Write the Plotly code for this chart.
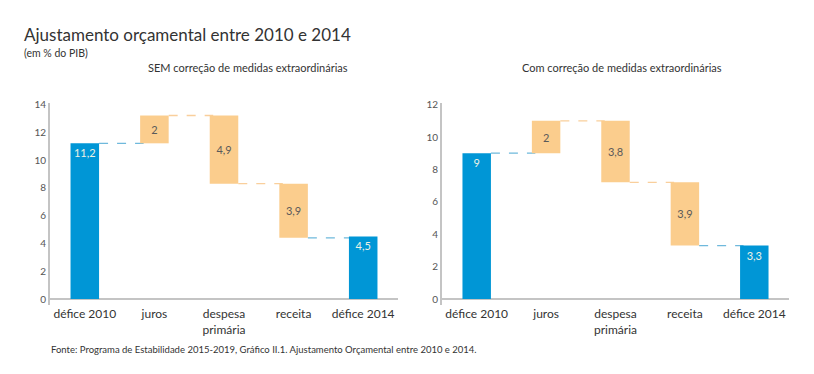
import plotly.graph_objects as go

categories = ["défice 2010", "juros", "despesa<br>primária", "receita", "défice 2014"]
left_values = [11.2, 2.0, -4.9, -3.9, 4.5]
right_values = [9.0, 2.0, -3.8, -3.9, 3.3]
measures = ["absolute", "relative", "relative", "relative", "absolute"]
left_title = "SEM correção de medidas extraordinárias"
right_title = "Com correção de medidas extraordinárias"
left_yticks = [0, 2, 4, 6, 8, 10, 12, 14]
right_yticks = [0, 2, 4, 6, 8, 10, 12]

BLUE = "#0096d6"
ORANGE = "#fbcd8d"
BLUE_DASH = "#6fb9dc"
ORANGE_DASH = "#f9cf9c"
FONT = "Lato"
W = 0.41

fig = go.Figure()


def fmt(v):
    s = ("%.1f" % abs(v)).rstrip("0").rstrip(".")
    return s.replace(".", ",")


def add_chart(values, xa, ya):
    tot_x, tot_h, tot_t = [], [], []
    rel_x, rel_h, rel_b, rel_t = [], [], [], []
    ends = []
    level = 0.0
    for i, (v, m) in enumerate(zip(values, measures)):
        if m == "absolute":
            tot_x.append(i)
            tot_h.append(v)
            tot_t.append(fmt(v))
            level = v
            ends.append(v)
        else:
            start = level
            level = level + v
            rel_x.append(i)
            rel_b.append(min(start, level))
            rel_h.append(abs(v))
            rel_t.append(fmt(v))
            ends.append(level)
    fig.add_trace(go.Bar(
        x=tot_x, y=tot_h, width=W,
        marker=dict(color=BLUE, line=dict(width=0)),
        text=tot_t, textposition="inside", insidetextanchor="end",
        textfont=dict(family=FONT, size=11, color="#eef2e4"),
        hoverinfo="skip", xaxis=xa, yaxis=ya, showlegend=False,
    ))
    fig.add_trace(go.Bar(
        x=rel_x, y=rel_h, base=rel_b, width=W,
        marker=dict(color=ORANGE, line=dict(width=0)),
        text=rel_t, textposition="inside", insidetextanchor="middle",
        textfont=dict(family=FONT, size=11, color="#5a5a5a"),
        hoverinfo="skip", xaxis=xa, yaxis=ya, showlegend=False,
    ))
    # connectors
    for i in range(len(values) - 1):
        yv = ends[i]
        col = BLUE_DASH if (measures[i] == "absolute" or measures[i + 1] == "absolute") else ORANGE_DASH
        fig.add_shape(type="line", xref=xa, yref=ya,
                      x0=i + W / 2, x1=i + 1 - W / 2 + 0.05, y0=yv, y1=yv,
                      line=dict(color=col, width=1.3, dash="dash"), layer="below")


add_chart(left_values, "x", "y")
add_chart(right_values, "x2", "y2")

fig.update_layout(barmode="overlay")

ydom = [(374 - 305) / 374, (374 - 103) / 374]
axis_common = dict(showgrid=False, showline=True, linecolor="#c4c4c4", linewidth=2,
                   ticks="", tickfont=dict(family=FONT, size=10, color="#555555"),
                   zeroline=True, zerolinecolor="#c4c4c4", zerolinewidth=2, fixedrange=True)
xcommon = dict(showgrid=False, showline=False, zeroline=False, ticks="",
               tickmode="array", tickvals=list(range(len(categories))), ticktext=categories,
               tickfont=dict(family=FONT, size=12, color="#333333"),
               range=[-0.5, len(categories) - 0.5], fixedrange=True)

fig.update_layout(
    width=814, height=374,
    margin=dict(l=0, r=0, t=0, b=0, autoexpand=False),
    paper_bgcolor="white", plot_bgcolor="white",
    font=dict(family=FONT, color="#333333"),
    xaxis=dict(domain=[50 / 814, 398 / 814], anchor="y", **xcommon),
    xaxis2=dict(domain=[442 / 814, 789 / 814], anchor="y2", **xcommon),
    yaxis=dict(domain=ydom, anchor="x", range=[-0.43, 14.1], tickvals=left_yticks, **axis_common),
    yaxis2=dict(domain=ydom, anchor="x2", range=[-0.37, 12.1], tickvals=right_yticks, **axis_common),
    annotations=[
        dict(text="Ajustamento orçamental entre 2010 e 2014", x=22 / 814, y=1 - 34 / 374,
             xref="paper", yref="paper", xanchor="left", yanchor="middle", showarrow=False,
             font=dict(family=FONT, size=17, color="#333333")),
        dict(text="(em % do PIB)", x=22 / 814, y=1 - 53 / 374,
             xref="paper", yref="paper", xanchor="left", yanchor="middle", showarrow=False,
             font=dict(family=FONT, size=10.5, color="#333333")),
        dict(text=left_title, x=248 / 814, y=1 - 67 / 374,
             xref="paper", yref="paper", xanchor="center", yanchor="middle", showarrow=False,
             font=dict(family=FONT, size=11, color="#333333")),
        dict(text=right_title, x=622 / 814, y=1 - 67 / 374,
             xref="paper", yref="paper", xanchor="center", yanchor="middle", showarrow=False,
             font=dict(family=FONT, size=11, color="#333333")),
        dict(text="Fonte: Programa de Estabilidade 2015-2019, Gráfico II.1. Ajustamento Orçamental entre 2010 e 2014.",
             x=49 / 814, y=1 - 349 / 374,
             xref="paper", yref="paper", xanchor="left", yanchor="middle", showarrow=False,
             font=dict(family=FONT, size=9.5, color="#333333")),
    ],
)

fig.write_html("out.html", config={"displayModeBar": False},
               post_script="document.body.style.margin='0';")
